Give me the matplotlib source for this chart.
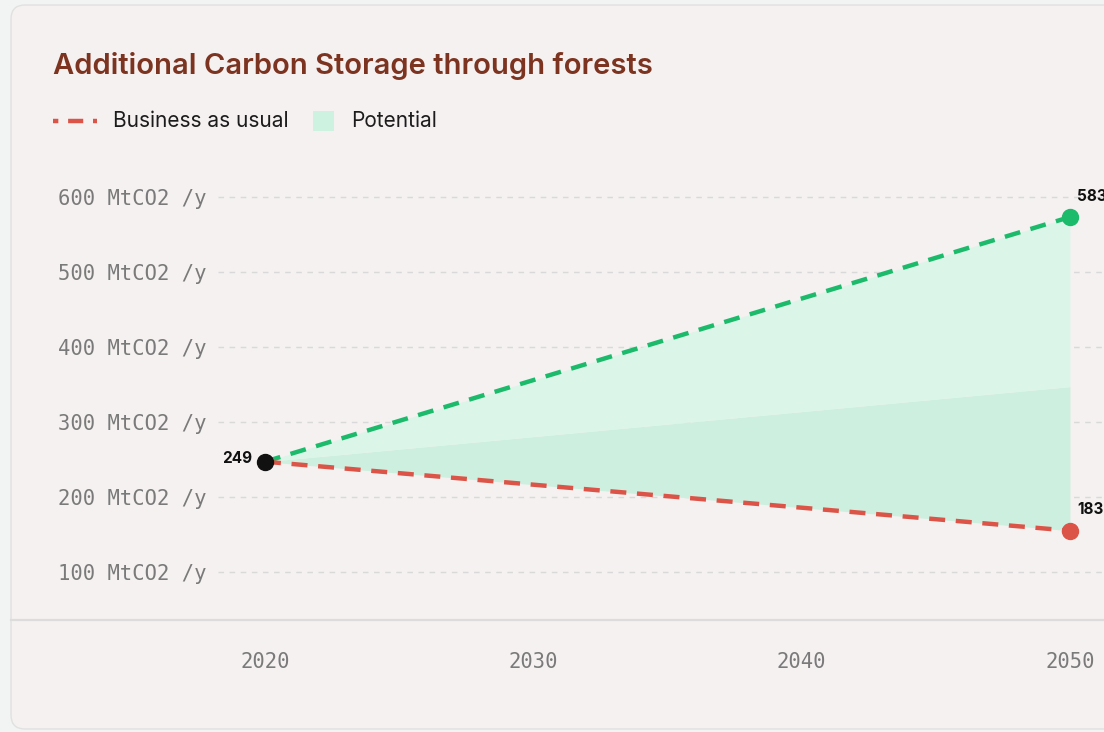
import matplotlib.pyplot as plt
from matplotlib.patches import FancyBboxPatch, Rectangle
from matplotlib.lines import Line2D

# data (positions) and the printed point labels
years = [2020, 2050]
bau = [247, 155]
potential_low = [247, 347]
potential_high = [247, 573]
start_label = "249"
high_label = "583"
bau_label = "183"
yticks = [100, 200, 300, 400, 500, 600]
xticks = [2020, 2030, 2040, 2050]

red = '#dc5447'
green = '#1cbb6b'
fill_light = '#dcf5e9'
fill_dark = '#cdefdf'
brown = '#7c3420'
mono = 'DejaVu Sans Mono'

fig = plt.figure(figsize=(11.04, 7.32), dpi=100, facecolor='#f2f3f3')

# card behind the chart
card = FancyBboxPatch((0.11, 0.03), 11.3, 7.24,
                      boxstyle='round,pad=0,rounding_size=0.14',
                      transform=fig.dpi_scale_trans,
                      facecolor='#f4f1f0', edgecolor='#e1e1e1', linewidth=1, zorder=0)
fig.add_artist(card)

ax = fig.add_axes([218/1104, 1-620/732, (1104-218)/1104, (620-160)/732])
ax.set_facecolor('none')
ax.set_xlim(2018.25, 2051.27)
ax.set_ylim(36, 649)

# potential band, two shades
ax.fill_between(years, bau, potential_low, color=fill_dark, linewidth=0, zorder=1)
ax.fill_between(years, potential_low, potential_high, color=fill_light, linewidth=0, zorder=1)

ax.plot(years, potential_high, color=green, linewidth=3.2, dashes=(3.6, 2.4),
        dash_capstyle='butt', zorder=3)
ax.plot(years, bau, color=red, linewidth=3.2, dashes=(3.6, 2.4),
        dash_capstyle='butt', zorder=3)

ax.plot(years[0], bau[0], 'o', color='#111111', markersize=11.5, zorder=4, clip_on=False)
ax.plot(years[1], potential_high[1], 'o', color=green, markersize=11.5, zorder=4, clip_on=False)
ax.plot(years[1], bau[1], 'o', color=red, markersize=11.5, zorder=4, clip_on=False)

ax.annotate(start_label, (years[0], bau[0]), xytext=(-9, 2), textcoords='offset points',
            ha='right', va='center', fontsize=11, fontweight='bold', color='#111111',
            family='Inter')
ax.annotate(high_label, (years[1], potential_high[1]), xytext=(5, 15), textcoords='offset points',
            ha='left', va='center', fontsize=11, fontweight='bold', color='#111111',
            family='Inter', annotation_clip=False)
ax.annotate(bau_label, (years[1], bau[1]), xytext=(5, 15), textcoords='offset points',
            ha='left', va='center', fontsize=11, fontweight='bold', color='#111111',
            family='Inter', annotation_clip=False)

ax.set_yticks(yticks)
ax.set_yticklabels([f'{v} MtCO2 /y' for v in yticks], family=mono, fontsize=14.8, color='#7a7a7a')
ax.set_xticks(xticks)
ax.set_xticklabels([str(v) for v in xticks], family=mono, fontsize=14.8, color='#7a7a7a')
ax.tick_params(axis='y', length=0, pad=8)
ax.tick_params(axis='x', length=0, pad=23)
ax.grid(axis='y', color='#d9d9d9', linewidth=1, linestyle=(0, (4, 4)))
ax.set_axisbelow(True)
for s in ax.spines.values():
    s.set_visible(False)

# separator line under the plot
fig.add_artist(Line2D([11/1104, 1], [1-620/732, 1-620/732], transform=fig.transFigure,
                      color='#dcdcdc', linewidth=1.6))

# title and legend
fig.text(53/1104, 1-66/732, 'Additional Carbon Storage through forests', family='Inter',
         fontweight='semibold', fontsize=21, color=brown, va='center', ha='left')
fig.add_artist(Line2D([53/1104, 97/1104], [1-121/732, 1-121/732], transform=fig.transFigure,
                      color=red, linewidth=3.2, dashes=(1.2, 2.2, 3.4, 2.2)))
fig.text(113/1104, 1-121/732, 'Business as usual', family='Inter', fontsize=15,
         color='#1c1c1c', va='center', ha='left')
fig.add_artist(Rectangle((313/1104, 1-131/732), 21/1104, 20/732, transform=fig.transFigure,
                         facecolor='#cdf2e0', edgecolor='none'))
fig.text(351/1104, 1-121/732, 'Potential', family='Inter', fontsize=15,
         color='#1c1c1c', va='center', ha='left')

plt.savefig('out.png', dpi=100, facecolor=fig.get_facecolor())
